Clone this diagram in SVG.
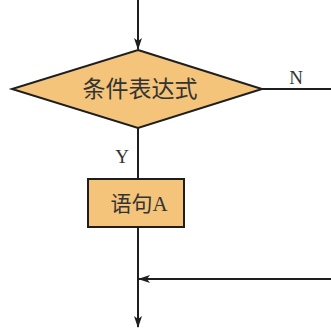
<svg xmlns="http://www.w3.org/2000/svg" width="331" height="329" viewBox="0 0 331 329">
<defs>
<style>
.shape{fill:#F3C47A;stroke:#1e1e1e;stroke-width:2}
.line{fill:none;stroke:#1e1e1e;stroke-width:2}
.t{font-family:"Liberation Serif","Noto Sans CJK SC",serif;fill:#333}
</style>
<marker id="arr" viewBox="0 0 12 10" refX="11" refY="5" markerWidth="12" markerHeight="10" orient="auto" markerUnits="userSpaceOnUse">
<path d="M0,1 L12,5 L0,9 L3,5 Z" fill="#1e1e1e"/>
</marker>
</defs>
<rect width="331" height="329" fill="#fff"/>
<g id="connectors">
<line class="line" x1="138" y1="0" x2="138" y2="49" marker-end="url(#arr)"/>
<line class="line" x1="260" y1="89" x2="331" y2="89"/>
<line class="line" x1="138" y1="128" x2="138" y2="179"/>
<line class="line" x1="138" y1="227" x2="138" y2="327" marker-end="url(#arr)"/>
<line class="line" x1="331" y1="279" x2="139" y2="279" marker-end="url(#arr)"/>
<text class="t" x="296" y="84" font-size="19" text-anchor="middle">N</text>
<text class="t" x="122" y="163" font-size="19" text-anchor="middle">Y</text>
</g>
<g id="cond">
<polygon class="shape" points="138,50 262,89 138,128 12,89"/>
<text class="t" x="140" y="97" font-size="23" text-anchor="middle">条件表达式</text>
</g>
<g id="stmtA">
<rect class="shape" x="88" y="179" width="96" height="48"/>
<text class="t" x="139" y="211" font-size="21" text-anchor="middle">语句A</text>
</g>
</svg>
